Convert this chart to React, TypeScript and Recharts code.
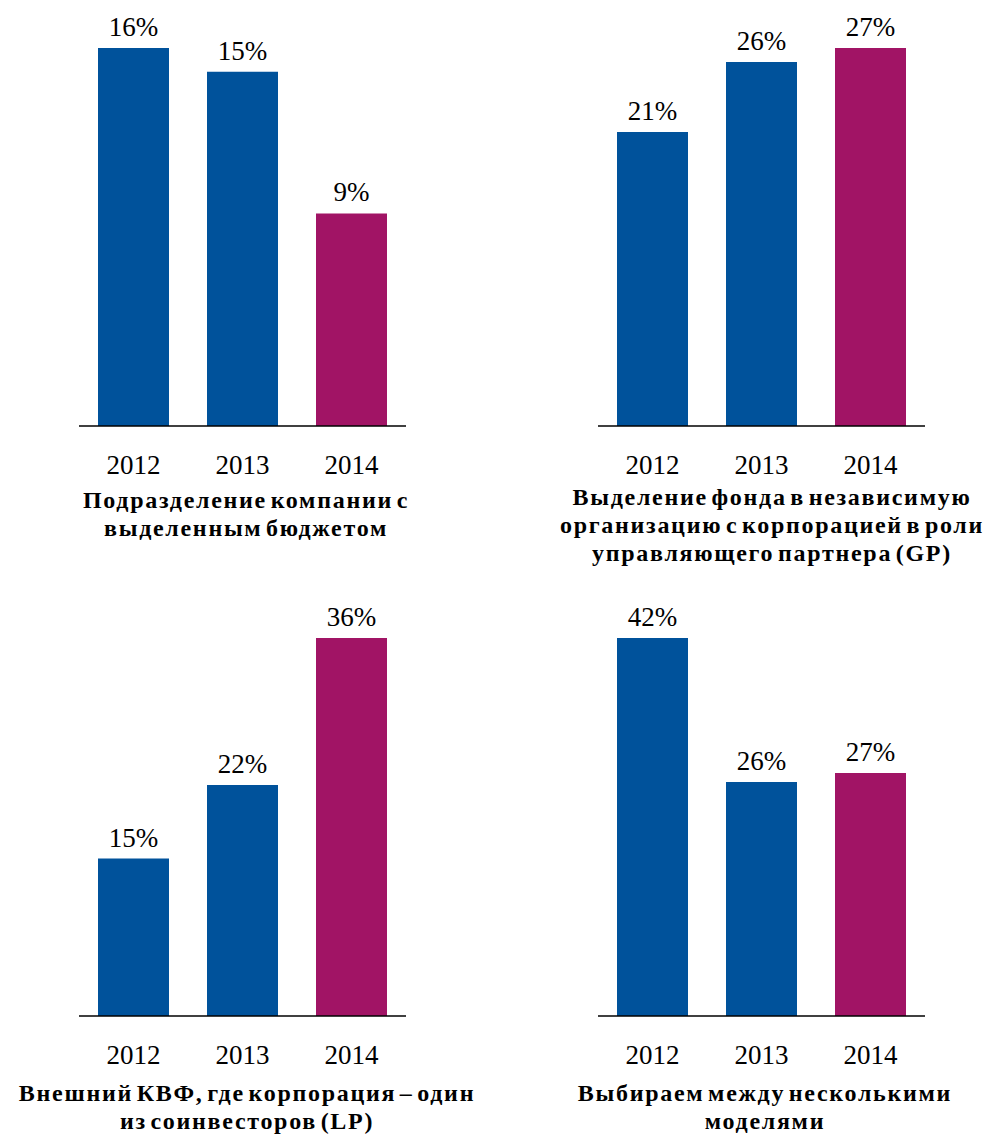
import { Bar, BarChart, Cell, LabelList, XAxis, YAxis } from 'recharts';

const years = ['2012', '2013', '2014'];

const budgetUnit = [16, 15, 9];
const independentGP = [21, 26, 27];
const externalLP = [15, 22, 36];
const multipleModels = [42, 26, 27];

const titles = [
  ['Подразделение компании с', 'выделенным бюджетом'],
  ['Выделение фонда в независимую', 'организацию с корпорацией в роли', 'управляющего партнера (GP)'],
  ['Внешний КВФ, где корпорация – один', 'из соинвесторов (LP)'],
  ['Выбираем между несколькими', 'моделями'],
];

const BLUE = '#00529B';
const MAGENTA = '#A11465';
const FONT = '"Liberation Serif"';

const PLOT_W = 327;
const PLOT_H = 378;
const M_LEFT = 79;
const M_TOP = 48;

interface PanelProps {
  values: number[];
  title: string[];
  left: number;
  top: number;
  titleTop: number;
  titleCenter: number;
}

function Panel({ values, title, left, top, titleTop, titleCenter }: PanelProps) {
  const data = years.map((year, i) => ({ year, value: values[i] }));
  return (
    <>
      <div style={{ position: 'absolute', left, top }}>
        <BarChart
          width={M_LEFT + PLOT_W + 74}
          height={M_TOP + PLOT_H + 60}
          data={data}
          margin={{ top: M_TOP, right: 74, bottom: 0, left: M_LEFT }}
          barSize={71}
        >
          <XAxis
            dataKey="year"
            height={60}
            axisLine={{ stroke: '#000', strokeWidth: 1.3 }}
            tickLine={false}
            tickSize={0}
            tickMargin={29}
            tick={{ fill: '#000', fontSize: 27, fontFamily: FONT }}
            interval={0}
          />
          <YAxis hide domain={[0, 'dataMax']} />
          <Bar dataKey="value" isAnimationActive={false}>
            {data.map((d, i) => (
              <Cell key={d.year} fill={i === 2 ? MAGENTA : BLUE} />
            ))}
            <LabelList
              dataKey="value"
              position="top"
              offset={12}
              formatter={(v: number) => `${v}%`}
              style={{ fill: '#000', fontSize: 27, fontFamily: FONT }}
            />
          </Bar>
        </BarChart>
      </div>
      <div
        style={{
          position: 'absolute',
          left: titleCenter - 250,
          top: titleTop,
          width: 500,
          textAlign: 'center',
          fontFamily: FONT,
          fontWeight: 'bold',
          fontSize: 24,
          letterSpacing: 1.7,
          wordSpacing: -4,
          lineHeight: '28px',
          color: '#000',
          whiteSpace: 'nowrap',
        }}
      >
        {title.map((line) => (
          <div key={line}>{line}</div>
        ))}
      </div>
    </>
  );
}

export default function App() {
  return (
    <div
      style={{
        position: 'absolute',
        left: 0,
        top: 0,
        width: 995,
        height: 1135,
        overflow: 'hidden',
        background: '#fff',
      }}
    >
      <Panel values={budgetUnit} title={titles[0]} left={0} top={0} titleTop={486} titleCenter={246} />
      <Panel values={independentGP} title={titles[1]} left={519} top={0} titleTop={483} titleCenter={772} />
      <Panel values={externalLP} title={titles[2]} left={0} top={590} titleTop={1079} titleCenter={247} />
      <Panel values={multipleModels} title={titles[3]} left={519} top={590} titleTop={1079} titleCenter={765} />
    </div>
  );
}
